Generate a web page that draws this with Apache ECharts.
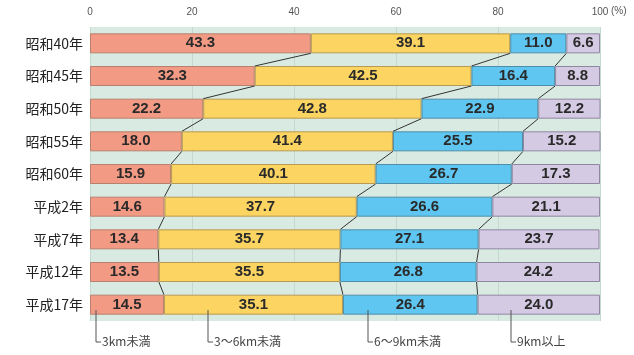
<!DOCTYPE html>
<html>
<head>
<meta charset="utf-8">
<script src="https://cdn.jsdelivr.net/npm/echarts@6/dist/echarts.min.js"></script>
<style>
  html, body { margin: 0; padding: 0; background: #fff; }
  #main { width: 634px; height: 355px; }
</style>
</head>
<body>
<div id="main"></div>
<script>
// 年次
var years = ['昭和40年', '昭和45年', '昭和50年', '昭和55年', '昭和60年', '平成2年', '平成7年', '平成12年', '平成17年'];
// 距離帯別の割合(%)
var under3 = [43.3, 32.3, 22.2, 18.0, 15.9, 14.6, 13.4, 13.5, 14.5];
var from3to6 = [39.1, 42.5, 42.8, 41.4, 40.1, 37.7, 35.7, 35.5, 35.1];
var from6to9 = [11.0, 16.4, 22.9, 25.5, 26.7, 26.6, 27.1, 26.8, 26.4];
var over9 = [6.6, 8.8, 12.2, 15.2, 17.3, 21.1, 23.7, 24.2, 24.0];
var xTicks = [0, 20, 40, 60, 80, 100];

var seriesData = [under3, from3to6, from6to9, over9];
var names = ['3km未満', '3〜6km未満', '6〜9km未満', '9km以上'];
var colors = ['#f29a84', '#fbd462', '#5ec6f0', '#d5cae3'];
var borders = ['#b8806e', '#b89a52', '#4f8ea8', '#8f86a0'];

// 境界線用の累積値
var cum = [];
var run = years.map(function () { return 0; });
for (var k = 0; k < 3; k++) {
    run = run.map(function (v, i) { return v + seriesData[k][i]; });
    cum.push(run.slice());
}
var linkData = [];
for (var k = 0; k < 3; k++) {
    for (var i = 0; i < years.length - 1; i++) {
        linkData.push([cum[k][i], i, cum[k][i + 1], k]);
    }
}

var barH = 20;
var series = seriesData.map(function (d, k) {
    return {
        name: names[k],
        type: 'bar',
        stack: 'all',
        barWidth: barH,
        data: d,
        itemStyle: { color: colors[k], borderColor: borders[k], borderWidth: 1 },
        label: {
            show: true,
            position: 'inside',
            formatter: function (p) { return p.value.toFixed(1); },
            color: '#2a2a2a',
            fontSize: 15,
            fontWeight: 'bold',
            fontFamily: 'Liberation Sans, Arial, sans-serif'
        },
        z: 3
    };
});

// 各年の境界をつなぐ線
series.push({
    type: 'custom',
    data: linkData,
    encode: { x: [0, 2], y: 1 },
    z: 4,
    silent: true,
    renderItem: function (params, api) {
        var p1 = api.coord([api.value(0), api.value(1)]);
        var p2 = api.coord([api.value(2), api.value(1) + 1]);
        return {
            type: 'line',
            shape: { x1: p1[0], y1: p1[1] + barH / 2, x2: p2[0], y2: p2[1] - barH / 2 },
            style: { stroke: '#333', lineWidth: 1 }
        };
    }
});

var myChart = echarts.init(document.getElementById('main'));
var lab = { fontSize: 12, fill: '#444', fontFamily: 'Noto Sans CJK JP' };
function bracket(x, text) {
    return [
        { type: 'polyline', shape: { points: [[x, 310], [x, 342], [x + 5, 342]] }, style: { stroke: '#555', lineWidth: 1, fill: null }, z: 10 },
        { type: 'text', x: x + 6, y: 335, style: Object.assign({ text: text }, lab), z: 10 }
    ];
}
var graphics = [].concat(bracket(96, names[0]), bracket(208, names[1]), bracket(368, names[2]), bracket(511, names[3]));
// 単位
graphics.push({ type: 'text', x: 611, y: 6, style: { text: '(%)', fontSize: 10, fill: '#555' } });

myChart.setOption({
    animation: false,
    grid: { left: 90, right: 34, top: 27, height: 294, show: true, backgroundColor: '#d9eae3', borderWidth: 0 },
    xAxis: {
        type: 'value',
        position: 'top',
        min: 0,
        max: 100,
        interval: 20,
        axisLine: { show: false },
        axisTick: { show: false },
        axisLabel: {
            color: '#555', fontSize: 10, margin: 10,
            formatter: function (v) { return xTicks.indexOf(v) >= 0 ? String(v) : ''; }
        },
        splitLine: { show: true, lineStyle: { color: '#c3d9cf', width: 1 } }
    },
    yAxis: {
        type: 'category',
        data: years,
        inverse: true,
        axisLine: { show: false },
        axisTick: { show: false },
        axisLabel: { color: '#222', fontSize: 14, margin: 7, fontFamily: 'Noto Sans CJK JP' }
    },
    graphic: graphics,
    series: series
});
</script>
</body>
</html>
